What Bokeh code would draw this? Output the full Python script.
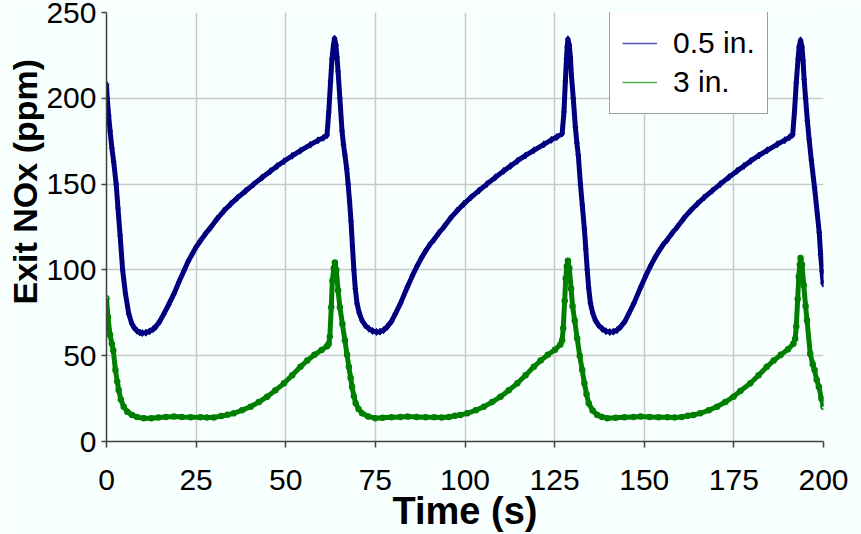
from bokeh.plotting import figure
from bokeh.models import Range1d, FixedTicker, Legend, LegendItem, Title
from bokeh.embed import file_html
from bokeh.resources import INLINE

# ---- data ----
x_ticks = [0, 25, 50, 75, 100, 125, 150, 175, 200]
y_ticks = [0, 50, 100, 150, 200, 250]

t_half_in = [
    0, 0.2, 0.6, 1.0, 1.5, 2.0, 2.7, 3.2, 3.8, 4.5, 5.3, 6.2, 7.0, 7.6, 8.5, 9.3, 10.0,
    11.0, 12.0, 13.0, 13.7, 14.8, 16.0, 17.4, 18.8, 20.2, 21.6, 22.8, 23.9, 25.0, 26.2,
    27.6, 29.0, 30.8, 32.7, 34.6, 36.5, 38.8, 41.0, 43.4, 45.7, 47.6, 49.5, 51.8, 54.1,
    56.9, 59.0, 60.5, 61.5, 62.0, 62.5, 62.9, 63.3, 63.6, 64.0, 64.3, 64.6, 65.1, 65.7,
    66.1, 66.5, 67.0, 67.4, 67.8, 68.2, 68.6, 69.0, 69.4, 69.9, 70.5, 71.3, 72.2, 73.2,
    74.2, 75.3,
    76.3, 77.3, 78.3, 79.5, 80.6, 82.0, 83.9, 85.3, 86.7, 88.0, 89.0, 90.1, 91.3, 92.7,
    94.1, 95.9, 97.8, 99.7, 101.6, 103.9, 106.1, 108.5, 110.8, 112.7, 114.6, 116.9,
    119.2, 122.0, 124.1, 125.6, 127.1, 127.6, 128.0, 128.3, 128.5, 128.7, 129.1, 129.4,
    129.7, 130.2, 130.8, 131.2, 131.6, 132.2, 132.7, 133.3, 133.7, 134.1, 134.5, 135.0,
    135.6, 136.4, 137.3, 138.3, 139.3, 140.4,
    141.4, 142.4, 143.4, 144.6, 145.7, 147.1, 149.0, 150.4, 151.8, 153.1, 154.1, 155.2,
    156.4, 157.8, 159.2, 161.0, 162.9, 164.8, 166.7, 169.0, 171.2, 173.6, 175.9, 177.8,
    179.7, 182.0, 184.3, 187.1, 189.2, 190.5, 191.4, 191.9, 192.4, 192.9, 193.2, 193.6,
    194.0, 194.3, 194.6, 195.0, 195.5, 196.0, 196.6, 197.5, 198.3, 198.8, 199.2, 199.6,
    199.9,
]
nox_half_in = [
    208, 200, 190, 181, 171, 163, 150, 136, 120, 100, 86, 74.5, 69, 66.7, 64.5, 63.5, 63.2,
    63.4, 64.2, 65.5, 66.7, 69.8, 74.4, 80, 86, 93, 99.5, 105, 109.2, 113.3, 117,
    121, 124.6, 129.6, 134.3, 138.3, 142, 146, 149.8, 153.8, 157.5, 160.5, 163.3, 166.5, 169.5,
    173, 175.5, 177, 178.5, 192, 209.7, 223, 231, 234.8, 231, 224, 215.5, 200, 181,
    173, 167, 159, 150, 140, 128.5, 114, 100, 89, 80.2, 75, 70.5, 67.6, 65.7,
    64.4, 63.8,
    64.0, 64.9, 66.8, 70.0, 74.5, 80.5, 89.9, 96.5, 102.5, 107.5, 111, 114.5, 117.5, 121.5,
    125, 130, 134.5, 138.5, 142.2, 146.2, 150, 154, 157.7, 160.6, 163.5, 166.7,
    169.7, 173.2, 175.8, 177.4, 179.5, 192, 210, 223, 230, 234.4, 231, 224,
    213, 200, 183, 174, 167, 150, 138, 124, 112, 100, 89.5, 80.5,
    75, 70.5, 67.6, 65.6, 64.3, 63.8,
    64.0, 64.9, 66.8, 70.0, 74.5, 80.5, 89.9, 96.5, 102.5, 107.5, 111, 114.5,
    117.5, 121.5, 125, 130, 134.5, 138.5, 142.2, 146.2, 150, 154, 157.7, 160.6,
    163.5, 166.7, 169.7, 173.2, 175.6, 177.3, 178.8, 192, 209, 223, 230, 233.8,
    230, 222, 211, 200, 187, 176, 164, 148, 132, 122, 109, 99,
    92,
]

t_three_in = [
    0, 0.4, 1.0, 1.5, 1.9, 2.5, 3.0, 3.4, 4.0, 4.8, 5.8, 7.1, 8.5, 10.4, 12.5, 14.5, 16.6,
    18.8, 21.0, 23.5, 26.2, 28.0, 29.9, 32.0, 33.8, 35.5, 37.8, 40.2, 42.5, 44.8, 47.1,
    49.5, 51.8, 54.1, 56.0, 58.0, 60.0, 61.5, 62.0, 62.3, 62.7, 63.0, 63.4, 63.7, 64.1,
    64.6, 65.1, 65.8, 66.5, 67.1, 67.6, 68.1, 68.5, 69.0, 69.5, 70.3, 71.3, 73.0, 75.0,
    77.0, 79.5, 82.0, 84.0, 86.5, 89.0, 91.5, 93.5, 95.5, 97.2, 98.7, 100.6, 103.0, 105.3,
    107.6, 109.9, 112.2, 114.6, 116.9, 119.2, 121.1, 123.1, 125.1, 126.6, 127.1, 127.4,
    127.8, 128.1, 128.4, 128.7, 129.1, 129.6, 130.0, 130.6, 131.3, 132.0, 132.7, 133.3,
    133.9, 134.5, 135.6, 136.9, 138.2, 139.7,
    142.0, 144.5, 147.0, 149.0, 151.5, 154.0, 156.5, 158.5, 160.5, 162.2, 163.7, 165.6,
    168.0, 170.3, 172.6, 174.9, 176.8, 179.6, 181.9, 184.2, 186.1, 188.1, 190.1, 191.6,
    192.1, 192.4, 192.8, 193.1, 193.4, 193.6, 194.0, 194.5, 195.0, 195.4, 196.3, 197.0,
    197.5, 198.1, 198.7, 199.4, 200.0,
]
nox_three_in = [
    83.5, 72.5, 62, 57, 53, 41.6, 35, 30, 24.5, 20.3, 17.3, 15.5, 14.3, 13.5, 13.6, 14.0, 14.3,
    14.5, 14.3, 14.2, 14.2, 14.0, 14.0, 14.8, 15.6, 16.4, 18.2, 20.3, 23.0, 26.1, 29.8,
    33.9, 38.6, 43.5, 47.2, 50.5, 53.3, 55.5, 57, 61, 78.3, 93.7, 101, 104.3, 100,
    88, 78.3, 68.5, 59, 50.5, 43.5, 37, 31.9, 26.5, 22.3, 19, 16.5, 14.6, 13.6,
    13.8, 14.1, 14.3, 14.5, 14.3, 14.2, 14.1, 14.0, 14.3, 15.0, 15.5, 16.4, 18.2, 20.3,
    23.0, 26.1, 29.8, 33.9, 38.6, 43.5, 47.2, 50.5, 53.5, 56.5, 59, 66,
    82, 95, 102, 105.3, 101, 89, 79, 70.5, 60, 50, 41.6, 34,
    27.5, 22.3, 18, 15.5, 14.3, 13.6,
    13.8, 14.1, 14.3, 14.5, 14.3, 14.2, 14.1, 14.0, 14.3, 15.0, 15.5, 16.4,
    18.2, 20.3, 23.0, 26.1, 29.5, 33.9, 38.6, 43.5, 47.2, 50.5, 53.8, 57,
    59.9, 67, 83, 96, 103, 106.9, 103, 91, 79, 70.5, 51.2, 45,
    41.6, 36, 31.9, 25, 20.3,
]

BG = "#F8FFFF"
FONT = "Liberation Sans"
AX = "#404040"

p = figure(
    width=861, height=534,
    x_range=Range1d(0, 200), y_range=Range1d(0, 250),
    output_backend="svg", toolbar_location=None,
    min_border_left=106, min_border_right=38, min_border_top=12, min_border_bottom=92,
    background_fill_color=BG, border_fill_color=BG, outline_line_color=None,
)

blue = "#00007F"
green = "#007F00"

# thin lines (used as legend glyphs), covered by the thick dotted traces
lb = p.line(t_half_in, nox_half_in, line_color="#5252B8", line_width=1.5)
lg = p.line(t_three_in, nox_three_in, line_color="#52AE52", line_width=1.5)

p.line(t_half_in, nox_half_in, line_color=blue, line_width=5, line_join="round")
p.scatter(t_half_in, nox_half_in, marker="diamond", size=7, color=blue)
p.line(t_three_in, nox_three_in, line_color=green, line_width=5, line_join="round")
p.scatter(t_three_in, nox_three_in, marker="circle", size=5, fill_color=None,
          line_color=green, line_width=1.5)

legend = Legend(
    items=[LegendItem(label="0.5 in.", renderers=[lb]),
           LegendItem(label="3 in.", renderers=[lg])],
    location=(503, 327), margin=0, padding=12, spacing=1,
    glyph_width=35, glyph_height=38, label_height=38, label_standoff=16,
    label_text_font=FONT, label_text_font_size="30px", label_text_color="black",
    border_line_color=AX, border_line_width=1,
    background_fill_color="white", background_fill_alpha=1,
)
p.add_layout(legend)

for ax, ticks, tout, so in ((p.xaxis[0], x_ticks, 6, 22), (p.yaxis[0], y_ticks, 5, 5)):
    ax.ticker = FixedTicker(ticks=ticks)
    ax.axis_line_color = AX
    ax.axis_line_width = 1.5
    ax.major_tick_line_color = AX
    ax.major_tick_line_width = 1.5
    ax.major_tick_in = 0
    ax.major_tick_out = tout
    ax.minor_tick_in = 0
    ax.minor_tick_out = 0
    ax.major_label_text_font = FONT
    ax.major_label_text_font_size = "30px"
    ax.major_label_text_color = "black"
    ax.major_label_standoff = so

p.xaxis[0].axis_label = "Time (s)"
p.xaxis[0].axis_label_standoff = -3
p.xaxis[0].axis_label_text_font = FONT
p.xaxis[0].axis_label_text_font_style = "bold"
p.xaxis[0].axis_label_text_font_size = "38px"
p.xaxis[0].axis_label_text_color = "black"

# y-axis title: rotated side title, shifted up from the bottom as in the reference
ytitle = Title(
    text="Exit NOx (ppm)", align="left", offset=137, standoff=0,
    text_font=FONT, text_font_style="bold", text_font_size="34px", text_color="black",
)
p.add_layout(ytitle, "left")

for g in (p.xgrid[0], p.ygrid[0]):
    g.grid_line_color = "#C8C8C8"
    g.grid_line_width = 1.5

open("out.html", "w").write(file_html(p, INLINE))
